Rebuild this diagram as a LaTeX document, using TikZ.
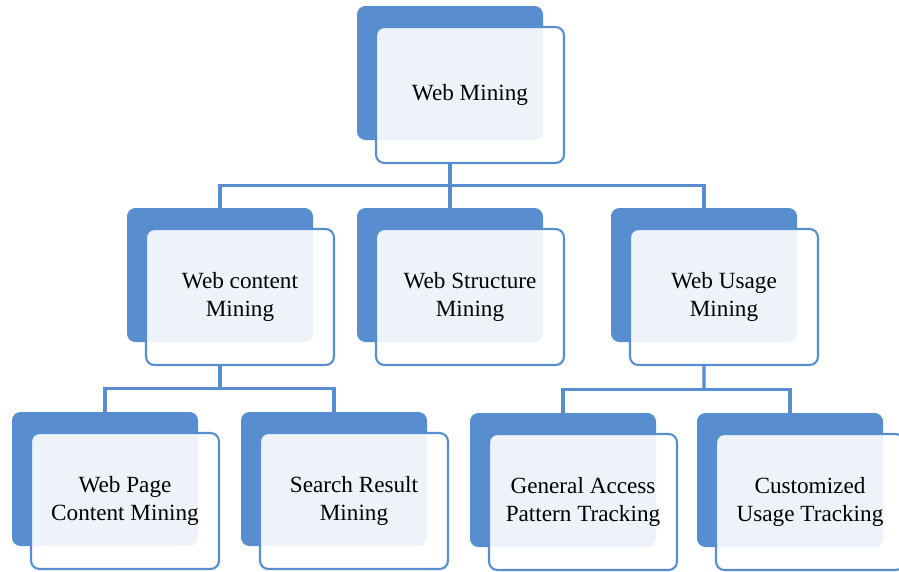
\documentclass[tikz,border=0pt]{standalone}
\usepackage{fontspec}
\setmainfont{Liberation Serif}
\usetikzlibrary{calc,positioning}

\definecolor{smblue}{RGB}{88,142,208}

\begin{document}
\begin{tikzpicture}[
  font=\fontsize{16.5}{20}\selectfont,
  back/.style={fill=smblue,rounded corners=6pt,inner sep=0pt,
               minimum width=4.65cm,minimum height=3.35cm},
  front/.style={draw=smblue,line width=1.5pt,fill=white,fill opacity=0.9,
                text opacity=1,rounded corners=6pt,inner sep=2pt,align=center,
                minimum width=4.7cm,minimum height=3.4cm},
  link/.style={draw=smblue,line width=2.2pt}
]
\useasboundingbox (0,0) rectangle (22.475,-14.275);

\node[back] (wm) at (11.25,-1.825) {};
\node[front] (wmf) at ($(wm)+(0.5,-0.55)$) {Web Mining};

\node[back] (wc) at (5.5,-6.875) {};
\node[front] (wcf) at ($(wc)+(0.5,-0.55)$) {Web content\\Mining};
\node[back] (ws) at (11.25,-6.875) {};
\node[front] (wsf) at ($(ws)+(0.5,-0.55)$) {Web Structure\\Mining};
\node[back] (wu) at (17.6,-6.875) {};
\node[front] (wuf) at ($(wu)+(0.5,-0.55)$) {Web Usage\\Mining};

\node[back] (wp) at (2.625,-11.975) {};
\node[front] (wpf) at ($(wp)+(0.5,-0.55)$) {Web Page\\Content Mining};
\node[back] (sr) at (8.35,-11.975) {};
\node[front] (srf) at ($(sr)+(0.5,-0.55)$) {Search Result\\Mining};
\node[back] (ga) at (14.075,-12.0) {};
\node[front] (gaf) at ($(ga)+(0.5,-0.55)$) {General Access\\Pattern Tracking};
\node[back] (cu) at (19.75,-12.0) {};
\node[front] (cuf) at ($(cu)+(0.5,-0.55)$) {Customized\\Usage Tracking};

\coordinate (j1) at ($(wm |- wmf.south)!0.5!(wm |- wc.north)$);
\draw[link] (wm |- wmf.south) -- (j1);
\draw[link] (j1) -| (wc.north);
\draw[link] (j1) -- (ws.north);
\draw[link] (j1) -| (wu.north);

\coordinate (j2) at ($(wc |- wcf.south)!0.5!(wc |- wp.north)$);
\draw[link] (wc |- wcf.south) -- (j2);
\draw[link] (j2) -| (wp.north);
\draw[link] (j2) -| (sr.north);

\coordinate (j3) at ($(wu |- wuf.south)!0.5!(wu |- ga.north)$);
\draw[link] (wu |- wuf.south) -- (j3);
\draw[link] (j3) -| (ga.north);
\draw[link] (j3) -| (cu.north);
\end{tikzpicture}
\end{document}
